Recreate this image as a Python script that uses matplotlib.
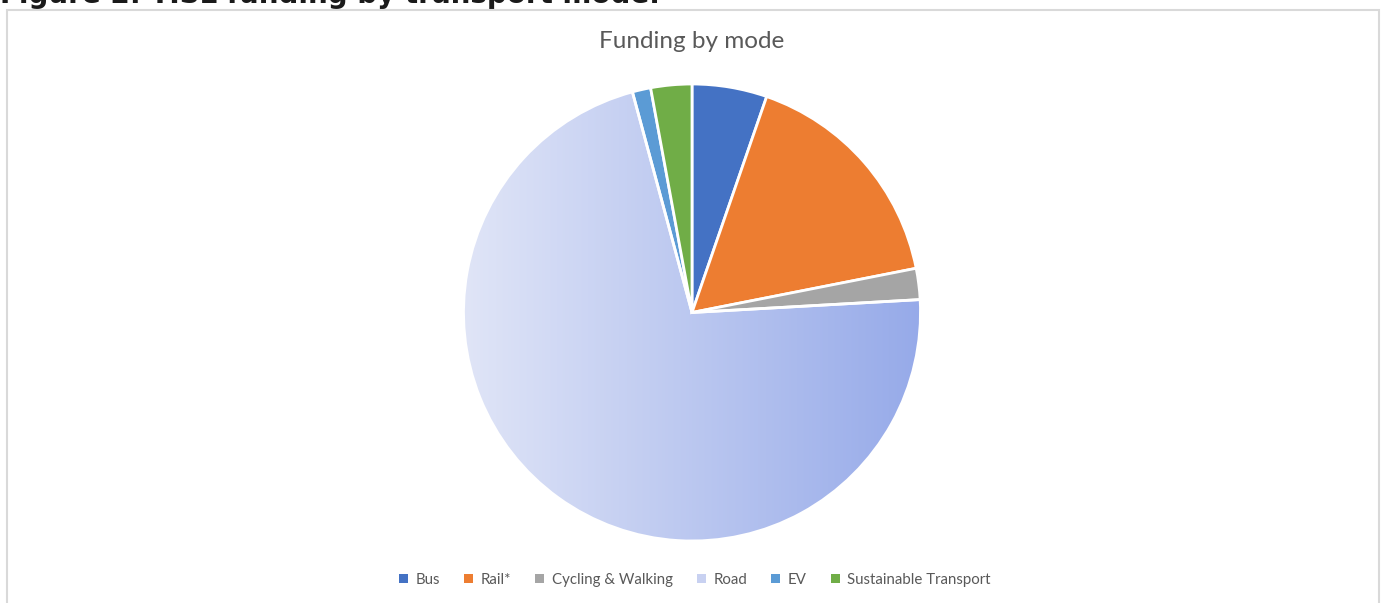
import matplotlib.pyplot as plt
import numpy as np
from matplotlib.patches import Patch, Rectangle

# Share of funding by transport mode (%)
modes = ['Bus', 'Rail*', 'Cycling & Walking', 'Road', 'EV', 'Sustainable Transport']
shares = [5.3, 16.6, 2.2, 71.7, 1.3, 2.9]
colors = ['#4472c4', '#ed7d31', '#a5a5a5', '#c0cbef', '#5b9bd5', '#70ad47']

W, H = 1383, 603
fig = plt.figure(figsize=(W / 100, H / 100), dpi=100)
ax = fig.add_axes([0, 0, 1, 1])

# work in pixel units, y measured upward
cx, cy, r = 692, H - 312.5, 228.5

wedges, _ = ax.pie(shares, colors=colors, startangle=90, counterclock=False,
                   center=(cx, cy), radius=r, frame=True,
                   wedgeprops=dict(edgecolor='white', linewidth=2))

# Road slice gets a left-to-right gradient fill
road = wedges[3]
road.set_facecolor('none')
road.set_zorder(3)
c0 = np.array([0xe0, 0xe5, 0xf7]) / 255
c1 = np.array([0x96, 0xaa, 0xe9]) / 255
t = np.linspace(0, 1, 256)
grad = (c0[None, :] * (1 - t[:, None]) + c1[None, :] * t[:, None])[None, :, :]
img = ax.imshow(grad, extent=(cx - r, cx + r, cy - r, cy + r), aspect='auto',
                interpolation='bilinear', zorder=0.5)
img.set_clip_path(road)

ax.set_xlim(0, W)
ax.set_ylim(0, H)
ax.axis('off')

# chart area border
ax.add_patch(Rectangle((6.5, -5), 1372, H - 5, fill=False,
                       edgecolor='#d9d9d9', linewidth=1.5, zorder=5))

ax.text(0, H - 3, 'Figure 2: TISL funding by transport mode.', fontsize=20,
        fontweight='bold', color='#1a1a1a', ha='left', va='baseline')

ax.text(cx, H - 42, 'Funding by mode', fontsize=17.5, color='#595959',
        family='Lato', ha='center', va='center')

handles = [Patch(facecolor=c, edgecolor='none', label=m) for m, c in zip(modes, colors)]
handles[3] = Patch(facecolor='#c8d1f1', edgecolor='none', label=modes[3])
leg = ax.legend(handles=handles, loc='center', bbox_to_anchor=(695 / W, 1 - 580 / H),
                ncol=6, frameon=False, handlelength=0.6, handleheight=0.6,
                handletextpad=0.5, columnspacing=1.6,
                prop={'family': 'Lato', 'size': 10.8})
for txt in leg.get_texts():
    txt.set_color('#595959')

fig.savefig('out.png', dpi=100)
